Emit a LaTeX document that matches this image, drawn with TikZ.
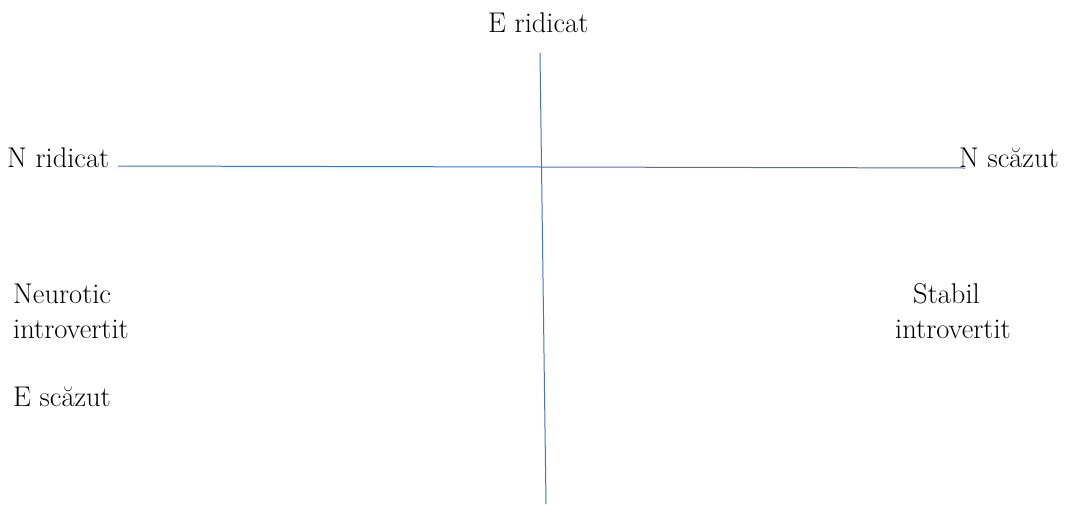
\documentclass[tikz,border=0pt]{standalone}
\usepackage{xcolor}
\usepackage{tikz}
\usetikzlibrary{positioning}
\definecolor{axisblue}{RGB}{68,114,196}
\tikzset{
  lbl/.style={anchor=base west,inner sep=0pt,font=\fontsize{28.5}{34}\selectfont},
  axisline/.style={axisblue,line width=1pt}
}
\begin{document}
\begin{tikzpicture}[x=1pt,y=-1pt]
  \useasboundingbox (0,0) rectangle (1071,504);
  % axes
  \coordinate (etop) at (540,53);
  \coordinate (ebot) at (546,504);
  \coordinate (nleft) at (118,166);
  \coordinate (nright) at (965,168);
  \draw[axisline] (etop)--(ebot);
  \draw[axisline] (nleft)--(nright);
  % labels
  \node[lbl] (ehigh) at (488,32) {E ridicat};
  \node[lbl] (nhigh) at (7,167) {N ridicat};
  \node[lbl] (nlow) at (959,167) {N scăzut};
  \node[lbl] (neuro) at (13,303) {Neurotic};
  \node[lbl] (introL) at (13,338) {introvertit};
  \node[lbl] (elow) at (13,406) {E scăzut};
  \node[lbl] (stab) at (913,303) {Stabil};
  \node[lbl] (introR) at (895,338) {introvertit};
\end{tikzpicture}
\end{document}
